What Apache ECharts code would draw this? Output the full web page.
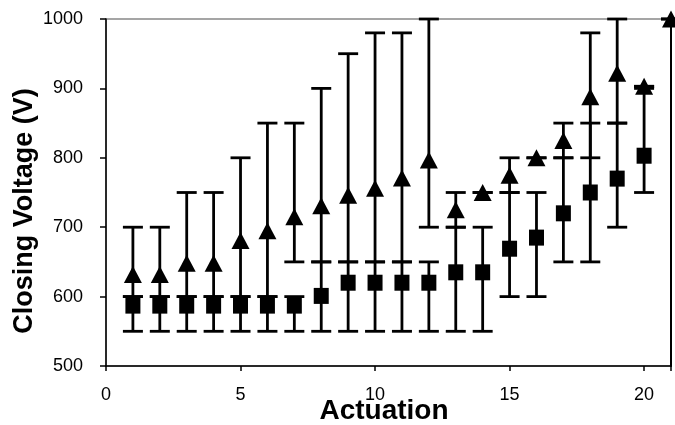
<!DOCTYPE html>
<html>
<head>
<meta charset="utf-8">
<script src="https://cdn.jsdelivr.net/npm/echarts@6/dist/echarts.min.js"></script>
<style>html,body{margin:0;padding:0;background:#fff}#c{width:675px;height:425px}</style>
</head>
<body>
<div id="c"></div>
<script>
// Actuation numbers
const sqX = [1,2,3,4,5,6,7,8,9,10,11,12,13,14,15,16,17,18,19,20];
const sqY = [587,587,587,587,587,587,587,601,620,620,620,620,635,635,669,685,720,750,770,803];
const sqLow = [550,550,550,550,550,550,550,550,550,550,550,550,550,550,600,600,650,650,700,750];
const sqHigh = [600,600,600,600,600,600,600,650,650,650,650,650,700,700,750,750,800,850,850,900];

const triX = [1,2,3,4,5,6,7,8,9,10,11,12,13,14,15,16,17,18,19,20,21];
const triY = [632,632,648,648,681,695,715,731,746,756,771,797,725,750,775,800,825,888,922,903,1000];
const triLow = [600,600,600,600,600,600,650,650,650,650,650,700,700,750,750,800,800,800,850,903,1000];
const triHigh = [700,700,750,750,800,850,850,900,950,980,980,1000,750,750,800,800,850,980,1000,903,1000];

const yTicks = [500,600,700,800,900,1000];
const xTicks = [0,5,10,15,20];

const FONT = '"Liberation Sans", Arial, sans-serif';

function pairs(xs, ys){ return xs.map((x,i)=>[x, ys[i]]); }
function errData(xs, lo, hi){ return xs.map((x,i)=>[x, lo[i], hi[i]]); }

function errRender(params, api){
  const x = api.value(0), lo = api.value(1), hi = api.value(2);
  const a = api.coord([x, lo]), b = api.coord([x, hi]);
  const hw = 10;
  const st = {stroke:'#000', lineWidth:2.8};
  return {type:'group', children:[
    {type:'line', shape:{x1:a[0],y1:a[1],x2:b[0],y2:b[1]}, style:st},
    {type:'line', shape:{x1:a[0]-hw,y1:a[1],x2:a[0]+hw,y2:a[1]}, style:st},
    {type:'line', shape:{x1:b[0]-hw,y1:b[1],x2:b[0]+hw,y2:b[1]}, style:st}
  ]};
}

const chart = echarts.init(document.getElementById('c'), null, {renderer:'canvas'});
chart.setOption({
  animation:false,
  backgroundColor:'#fff',
  grid:{left:106, right:4, top:19, bottom:59, show:true, borderColor:'#888', borderWidth:1.5},
  xAxis:{
    type:'value', min:0, max:21, interval:5,
    axisLine:{show:true, onZero:false, lineStyle:{color:'#000', width:1.5}},
    axisTick:{show:true, inside:false, length:5, lineStyle:{color:'#000', width:1.5}},
    splitLine:{show:false},
    axisLabel:{fontFamily:FONT, fontSize:18, color:'#000', margin:20,
      formatter:v => xTicks.includes(v) ? String(v) : ''}
  },
  yAxis:[{
    type:'value', min:500, max:1000, interval:100,
    axisLine:{show:true, onZero:false, lineStyle:{color:'#000', width:1.5}},
    axisTick:{show:true, inside:false, length:6, lineStyle:{color:'#000', width:1.5}},
    splitLine:{show:false},
    axisLabel:{fontFamily:FONT, fontSize:18, color:'#000', margin:23,
      formatter:v => yTicks.includes(v) ? String(v) : ''}
  },{
    type:'value', min:500, max:1000, interval:100, position:'right',
    axisLine:{show:true, onZero:false, lineStyle:{color:'#000', width:2}},
    axisTick:{show:false}, axisLabel:{show:false}, splitLine:{show:false}
  }],
  graphic:[
    {type:'text', silent:true, x:25, y:211, rotation:Math.PI/2,
     style:{text:'Closing Voltage (V)', font:'bold 27px ' + FONT, fill:'#000', textAlign:'center', textVerticalAlign:'middle'}},
    {type:'text', silent:true, x:384, y:411,
     style:{text:'Actuation', font:'bold 28px ' + FONT, fill:'#000', textAlign:'center', textVerticalAlign:'middle'}}
  ],
  series:[
    {type:'custom', name:'sqErr', renderItem:errRender, data:errData(sqX, sqLow, sqHigh), clip:false, z:2,
     encode:{x:0, y:[1,2]}},
    {type:'custom', name:'triErr', renderItem:errRender, data:errData(triX, triLow, triHigh), clip:false, z:2,
     encode:{x:0, y:[1,2]}},
    {type:'scatter', name:'squares', data:pairs(sqX, sqY), symbol:'rect', symbolSize:[15,16],
     itemStyle:{color:'#000', opacity:1}, clip:false, z:5},
    {type:'scatter', name:'triangles', data:pairs(triX, triY), symbol:'triangle', symbolSize:[18,17],
     itemStyle:{color:'#000', opacity:1}, clip:false, z:5}
  ]
});
</script>
</body>
</html>
